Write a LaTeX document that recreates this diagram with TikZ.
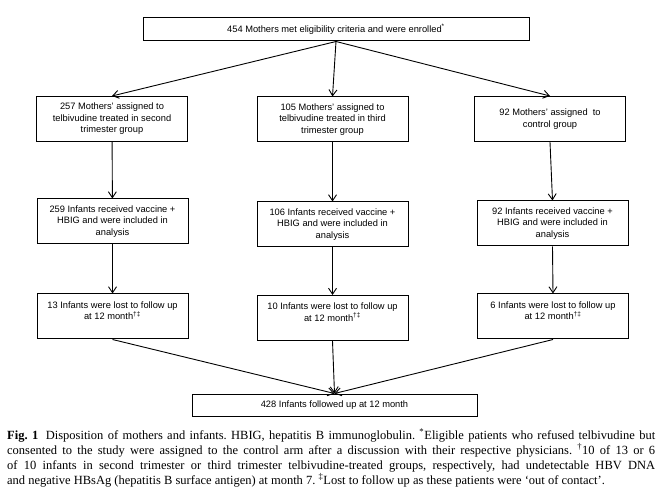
\documentclass[tikz,border=0pt]{standalone}
\usepackage{fontspec}
\setmainfont{Liberation Serif}
\newfontfamily\boxfont{Liberation Sans}
\usetikzlibrary{arrows.meta}
\definecolor{ink}{HTML}{000000}
\tikzset{
  box/.style={draw=ink, line width=1pt, minimum width=151pt, minimum height=45pt, inner sep=0pt,
    align=center, font=\boxfont\fontsize{9.3}{11.5}\selectfont},
  wide/.style={box, minimum width=386pt, minimum height=23pt},
  arr/.style={draw=ink, line width=0.9pt, -{Straight Barb[length=6pt,width=8pt]}},
  captxt/.style={anchor=north west, inner sep=0pt, text width=648pt, align=justify,
    font=\fontsize{12.5}{15}\selectfont\frenchspacing},
}

\begin{document}
\begin{tikzpicture}[x=1pt,y=-1pt]
  \useasboundingbox (0,0) rectangle (662,497);

  % mothers
  \node[wide] (enrol) at (336,29.5) {454 Mothers met eligibility criteria and were enrolled\textsuperscript{*}};
  \node[box] (mom2) at (112,119) {257 Mothers’ assigned to\\telbivudine treated in second\\trimester group};
  \node[box] (mom3) at (332.5,119.5) {105 Mothers’ assigned to\\telbivudine treated in third\\trimester group};
  \node[box] (momc) at (550,119) {92 Mothers’ assigned\ \ to\\control group};

  % infants
  \node[box] (inf2) at (112.5,221.5) {259 Infants received vaccine +\\HBIG and were included in\\analysis};
  \node[box] (inf3) at (332.5,224.5) {106 Infants received vaccine +\\HBIG and were included in\\analysis};
  \node[box] (infc) at (552.5,223.5) {92 Infants received vaccine +\\HBIG and were included in\\analysis};

  % lost
  \node[box] (lost2) at (112.5,316.5) {13 Infants were lost to follow up\\at 12 month\textsuperscript{†‡}\\\mbox{}};
  \node[box] (lost3) at (332.5,318) {10 Infants were lost to follow up\\at 12 month\textsuperscript{†‡}\\\mbox{}};
  \node[box] (lostc) at (553,316.5) {6 Infants were lost to follow up\\at 12 month\textsuperscript{†‡}\\\mbox{}};

  \node[wide, minimum width=285pt, minimum height=22pt] (follow) at (334.5,405) {428 Infants followed up at 12 month};

  \draw[arr] (enrol.south) -- (mom2.north);
  \draw[arr] (enrol.south) -- (mom3.north);
  \draw[arr] (enrol.south) -- (momc.north);
  \draw[arr] (mom2) -- (inf2);
  \draw[arr] (mom3) -- (inf3);
  \draw[arr] (momc.south) -- (infc.north);
  \draw[arr] (inf2) -- (lost2);
  \draw[arr] (inf3) -- (lost3);
  \draw[arr] (infc.south) -- (lostc.north);
  \draw[arr] (lost2.south) -- (follow.north);
  \draw[arr] (lost3.south) -- (follow.north);
  \draw[arr] (lostc.south) -- (follow.north);

  \node[captxt] (caption) at (7,429) {\hyphenpenalty=10000 \exhyphenpenalty=10000 \textbf{Fig. 1}\hspace{0.6em}Disposition of mothers and infants. HBIG, hepatitis B immunoglobulin. \textsuperscript{*}Eligible patients who refused telbivudine but\linebreak consented to the study were assigned to the control arm after a discussion with their respective physicians. \textsuperscript{†}10 of 13 or 6\linebreak of 10 infants in second trimester or third trimester telbivudine-treated groups, respectively, had undetectable HBV DNA\linebreak and negative HBsAg (hepatitis B surface antigen) at month 7. \textsuperscript{‡}Lost to follow up as these patients were ‘out of contact’.};
\end{tikzpicture}
\end{document}
